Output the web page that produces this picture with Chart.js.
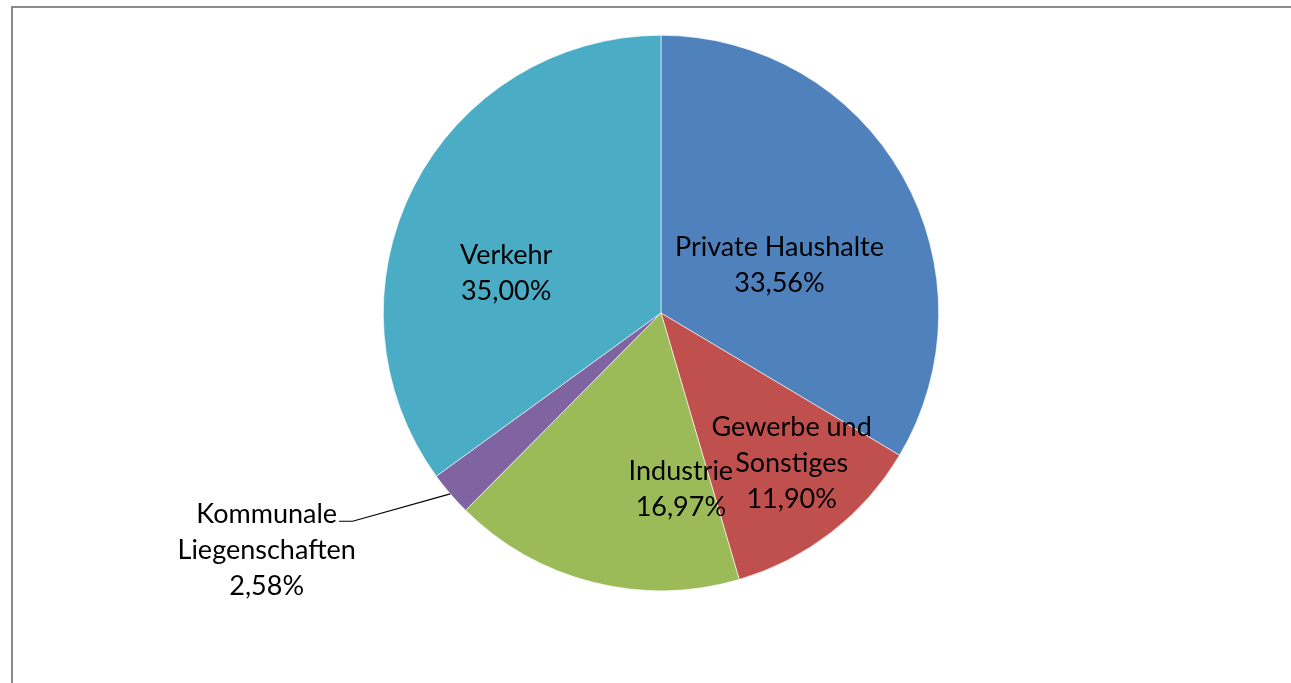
<!DOCTYPE html>
<html><head><meta charset="utf-8">
<script src="https://cdn.jsdelivr.net/npm/chart.js@4.4.1/dist/chart.umd.min.js"></script>
<style>html,body{margin:0;padding:0;background:#fff;overflow:hidden}#wrap{position:absolute;left:0;top:0;width:1291px;height:683px}</style>
</head><body><div id="wrap"><canvas id="c"></canvas></div>
<script>
const categories = ["Private Haushalte","Gewerbe und Sonstiges","Industrie","Kommunale Liegenschaften","Verkehr"];
const labelLines = [["Private Haushalte"],["Gewerbe und","Sonstiges"],["Industrie"],["Kommunale","Liegenschaften"],["Verkehr"]];
const shares = [33.56, 11.90, 16.97, 2.58, 35.00];
const percentLabels = ["33,56%","11,90%","16,97%","2,58%","35,00%"];
const colors = ["#4F81BD","#C0504D","#9BBB59","#8064A2","#4BACC6"];
// label placement style: angle offset from slice middle (deg), distance as fraction of radius
const labelPlace = [
  {dAng: 7.6, frac: 0.46},
  {dAng: -3.3, frac: 0.716},
  {dAng: -20.6, frac: 0.64},
  {dAng: 9.6, frac: 1.657, leader: {dAng: 6.6, frac: 1.34}},
  {dAng: -12.5, frac: 0.576}
];
const FONT = '27px Lato';
const LINE_H = 36;

const framePlugin = {
  id: 'frame',
  beforeDraw(chart) {
    const ctx = chart.ctx;
    ctx.save();
    ctx.strokeStyle = '#8c8c8c';
    ctx.lineWidth = 2;
    ctx.strokeRect(12, 7, 1400, 800);
    ctx.restore();
  }
};

const labelPlugin = {
  id: 'sliceLabels',
  afterDatasetsDraw(chart) {
    const ctx = chart.ctx;
    const meta = chart.getDatasetMeta(0);
    ctx.save();
    ctx.font = FONT;
    ctx.fillStyle = '#000';
    ctx.textAlign = 'center';
    ctx.textBaseline = 'middle';
    meta.data.forEach((arc, i) => {
      const p = arc.getProps(['x','y','startAngle','endAngle','outerRadius'], true);
      const mid = (p.startAngle + p.endAngle) / 2;
      const pl = labelPlace[i];
      const a = mid + pl.dAng * Math.PI / 180;
      const cx = p.x + Math.cos(a) * p.outerRadius * pl.frac;
      const cy = p.y + Math.sin(a) * p.outerRadius * pl.frac;
      const lines = labelLines[i].concat([percentLabels[i]]);
      const top = cy - (lines.length - 1) * LINE_H / 2;
      lines.forEach((t, k) => ctx.fillText(t, cx, top + k * LINE_H));
      if (pl.leader) {
        const ex = p.x + Math.cos(mid) * p.outerRadius;
        const ey = p.y + Math.sin(mid) * p.outerRadius;
        const la = mid + pl.leader.dAng * Math.PI / 180;
        const bx = p.x + Math.cos(la) * p.outerRadius * pl.leader.frac;
        const by = p.y + Math.sin(la) * p.outerRadius * pl.leader.frac;
        const w = ctx.measureText(lines[0]).width;
        ctx.beginPath();
        ctx.strokeStyle = '#000';
        ctx.lineWidth = 1.2;
        ctx.moveTo(ex, ey);
        ctx.lineTo(bx, by);
        ctx.lineTo(cx + w / 2 + 2, by);
        ctx.stroke();
      }
    });
    ctx.restore();
  }
};

new Chart(document.getElementById('c'), {
  type: 'pie',
  data: {
    labels: categories,
    datasets: [{
      data: shares,
      backgroundColor: colors,
      borderColor: '#ffffff',
      borderWidth: 0.6
    }]
  },
  options: {
    responsive: true,
    maintainAspectRatio: false,
    animation: false,
    layout: { padding: { left: 383, right: 352, top: 35, bottom: 92 } },
    plugins: { legend: { display: false }, tooltip: { enabled: false } }
  },
  plugins: [framePlugin, labelPlugin]
});
</script>
</body></html>
